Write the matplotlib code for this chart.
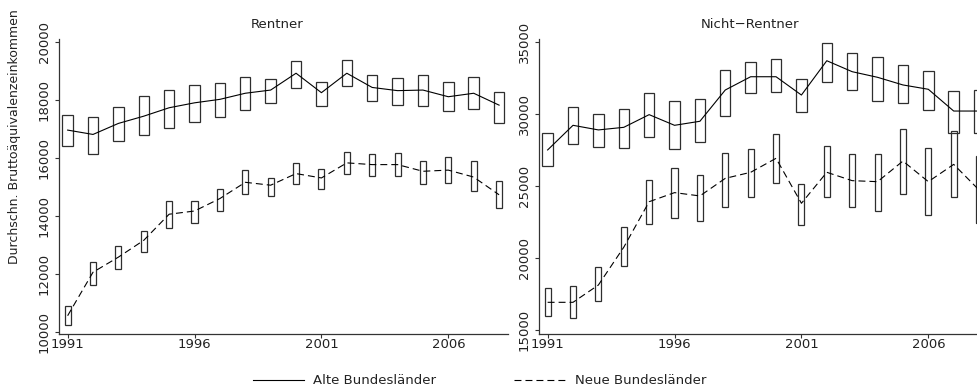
import matplotlib
matplotlib.use("Agg")
import matplotlib.pyplot as plt
from matplotlib.lines import Line2D
import numpy as np

plt.rcParams['font.family'] = ['DejaVu Sans']
plt.rcParams['lines.scale_dashes'] = False

years = list(range(1991, 2009))
xticks = [1991, 1996, 2001, 2006]

# Rentner - Alte Bundeslaender
mean_rA = [16950, 16800, 17180, 17430, 17720, 17890, 18010, 18220, 18330, 18910, 18240, 18910, 18420, 18310, 18330, 18100, 18220, 17810]
lo_rA = [16400, 16140, 16570, 16780, 17030, 17240, 17390, 17640, 17870, 18390, 17780, 18470, 17950, 17800, 17780, 17600, 17660, 17210]
hi_rA = [17470, 17390, 17730, 18110, 18330, 18500, 18580, 18790, 18720, 19340, 18610, 19360, 18860, 18760, 18840, 18610, 18790, 18270]
# Rentner - Neue Bundeslaender
mean_rN = [10550, 12050, 12570, 13150, 14050, 14160, 14590, 15150, 15050, 15450, 15300, 15820, 15760, 15760, 15530, 15570, 15330, 14720]
lo_rN = [10230, 11620, 12170, 12760, 13570, 13760, 14150, 14740, 14670, 15080, 14930, 15450, 15370, 15370, 15080, 15130, 14840, 14260]
hi_rN = [10880, 12400, 12950, 13480, 14490, 14520, 14930, 15590, 15300, 15820, 15610, 16190, 16120, 16160, 15890, 16030, 15890, 15190]
# Nicht-Rentner - Alte Bundeslaender
mean_nA = [27490, 29200, 28880, 29060, 29940, 29200, 29480, 31650, 32570, 32570, 31300, 33680, 32920, 32530, 32000, 31700, 30190, 30190]
lo_nA = [26380, 27900, 27700, 27650, 28370, 27580, 28020, 29850, 31420, 31490, 30140, 32200, 31650, 30890, 30730, 30260, 28690, 28690]
hi_nA = [28650, 30490, 30010, 30310, 31440, 30910, 31000, 33040, 33610, 33780, 32430, 34930, 34200, 33960, 33400, 32990, 31580, 31650]
# Nicht-Rentner - Neue Bundeslaender
mean_nN = [16920, 16920, 18120, 20740, 23900, 24530, 24300, 25520, 25940, 26910, 23790, 25940, 25360, 25290, 26720, 25290, 26490, 24710]
lo_nN = [15990, 15830, 16990, 19440, 22330, 22750, 22580, 23550, 24250, 25220, 22290, 24250, 23510, 23280, 24410, 22980, 24250, 22400]
hi_nN = [17930, 18050, 19390, 22170, 25390, 26260, 25730, 27300, 27540, 28580, 25110, 27770, 27190, 27190, 28920, 27610, 28810, 27070]

rent_yticks = [10000, 12000, 14000, 16000, 18000, 20000]
nicht_yticks = [15000, 20000, 25000, 30000, 35000]

W, H = 978, 390
fig = plt.figure(figsize=(W / 100, H / 100), dpi=100)

TXT = '#222222'
EDGE = '#2e2e2e'
FS = 9.5
DASH = (0, (5.0, 2.9))

def panel(left_px, ylim, yticks, title, title_x, A, N):
    ax = fig.add_axes([left_px / W, 56 / H, 448.7 / W, (334 - 39.3) / H])
    mA, lA, hA = [np.array(v) for v in A]
    mN, lN, hN = [np.array(v) for v in N]
    ax.bar(years, hA - lA, bottom=lA, width=0.41, fill=False, edgecolor=EDGE, linewidth=0.9, zorder=2)
    ax.bar(years, hN - lN, bottom=lN, width=0.24, fill=False, edgecolor=EDGE, linewidth=0.9, zorder=2)
    ax.plot(years, mA, color='black', linewidth=0.8, zorder=3)
    ax.plot(years, mN, color='black', linewidth=0.8, linestyle=DASH, zorder=3)
    ax.set_xlim(1990.66, 2008.34)
    ax.set_ylim(*ylim)
    ax.set_xticks(xticks)
    ax.set_yticks(yticks)
    for s in ['top', 'right']:
        ax.spines[s].set_visible(False)
    for s in ['left', 'bottom']:
        ax.spines[s].set_color('#333333')
        ax.spines[s].set_linewidth(0.9)
    ax.tick_params(axis='both', length=3, width=0.8, color='#333333', labelsize=FS, labelcolor=TXT)
    ax.tick_params(axis='x', pad=0)
    ax.tick_params(axis='y', pad=3)
    for lab in ax.get_yticklabels():
        lab.set_rotation(90)
        lab.set_va('center')
    ax.patch.set_alpha(0)
    fig.text(title_x / W, 1 - 24.5 / H, title, ha='center', va='center', fontsize=FS, color=TXT)
    return ax

ax1 = panel(59, (9920, 20080), rent_yticks, 'Rentner', 277, (mean_rA, lo_rA, hi_rA), (mean_rN, lo_rN, hi_rN))
ax2 = panel(539, (14722, 35167), nicht_yticks, 'Nicht\u2212Rentner', 750, (mean_nA, lo_nA, hi_nA), (mean_nN, lo_nN, hi_nN))

fig.text(15 / W, 1 - 137 / H, 'Durchschn. Bruttoäquivalenzeinkommen', rotation=90,
         ha='center', va='center', fontsize=9.0, color=TXT)

handles = [Line2D([], [], color='black', linewidth=0.8),
           Line2D([], [], color='black', linewidth=0.8, linestyle=DASH)]
fig.legend(handles, ['Alte Bundesländer', 'Neue Bundesländer'], ncol=2, frameon=False,
           loc='center left', bbox_to_anchor=(253 / W, 1 - 381 / H), borderpad=0, borderaxespad=0,
           handlelength=3.9, handletextpad=0.68, columnspacing=5.9, fontsize=FS, labelcolor=TXT)

fig.savefig('out.png', dpi=100)
